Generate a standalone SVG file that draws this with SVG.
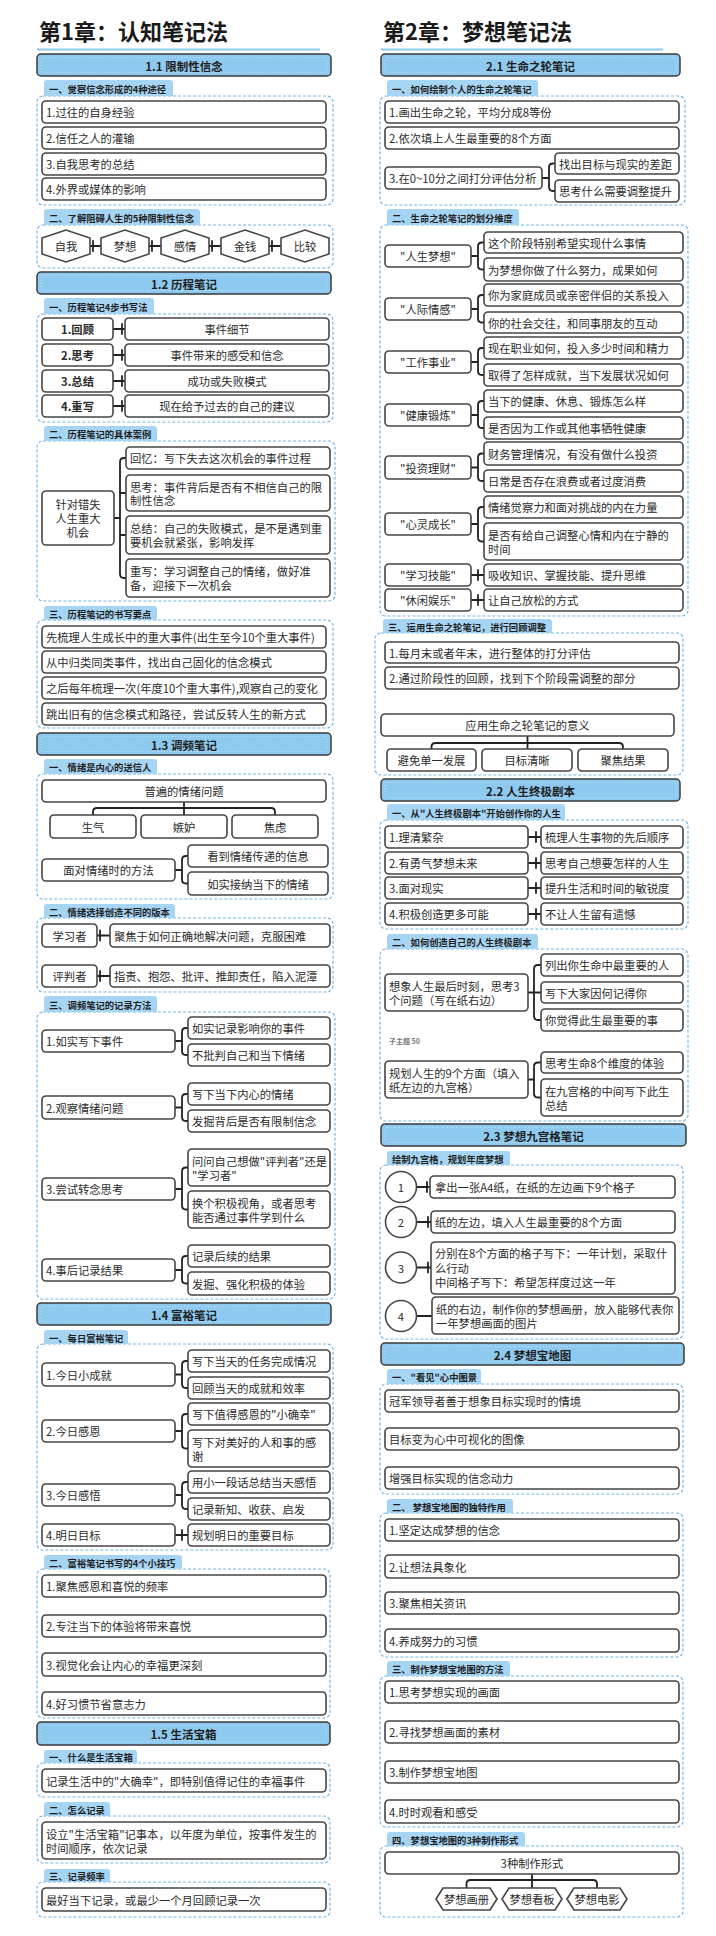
<svg xmlns="http://www.w3.org/2000/svg" width="716" height="1936" viewBox="0 0 716 1936">
<style>
text{font-family:"Noto Sans CJK SC","Noto Sans",sans-serif;dominant-baseline:central}
.ttl{font-size:22px;font-weight:bold;fill:#1a1a1a;dominant-baseline:auto}
.tl{stroke:#8ec8ee;stroke-width:2}
.hd{fill:#8ecaef;stroke:#3a3a3a;stroke-width:1.5}
.hdi{fill:none;stroke:#c9e6f9;stroke-width:.8;stroke-dasharray:1 2}
.ht{font-size:11.5px;font-weight:bold;fill:#1e1e1e;text-anchor:middle}
.tab{fill:#a6d4f3}
.tt{font-size:9.3px;font-weight:bold;fill:#1f1f1f}
.ct{fill:none;stroke:#72b7e6;stroke-width:1.2;stroke-dasharray:3 2}
.bx{fill:#fff;stroke:#454545;stroke-width:1.6}
.t{font-size:11.3px;fill:#2b2b2b}
.m{text-anchor:middle}
.b{font-weight:bold}
.cn{fill:none;stroke:#222;stroke-width:1.8;stroke-linecap:round;stroke-linejoin:round}
.sm{font-size:7px;font-weight:bold;fill:#777}
</style>

<!-- Titles -->
<g id="title1"><text class="ttl" x="39" y="40">第1章：认知笔记法</text><line class="tl" x1="37" y1="49.5" x2="320" y2="49.5"/></g>
<g id="title2"><text class="ttl" x="383" y="40">第2章：梦想笔记法</text><line class="tl" x1="381" y1="49.5" x2="663" y2="49.5"/></g>

<!-- Section headers -->
<g id="h11"><rect class="hd" x="37" y="54" width="294" height="22" rx="4"/><rect class="hdi" x="41" y="57.5" width="286" height="15" rx="2"/><text class="ht" x="184" y="65.5">1.1  限制性信念</text></g>
<g id="h12"><rect class="hd" x="37" y="272" width="294" height="22" rx="4"/><rect class="hdi" x="41" y="275.5" width="286" height="15" rx="2"/><text class="ht" x="184" y="283.5">1.2  历程笔记</text></g>
<g id="h13"><rect class="hd" x="37" y="733" width="294" height="22" rx="4"/><rect class="hdi" x="41" y="736.5" width="286" height="15" rx="2"/><text class="ht" x="184" y="744.5">1.3  调频笔记</text></g>
<g id="h14"><rect class="hd" x="37" y="1303" width="294" height="22" rx="4"/><rect class="hdi" x="41" y="1306.5" width="286" height="15" rx="2"/><text class="ht" x="184" y="1314.5">1.4  富裕笔记</text></g>
<g id="h15"><rect class="hd" x="37" y="1722" width="293" height="23" rx="4"/><rect class="hdi" x="41" y="1725.5" width="285" height="16" rx="2"/><text class="ht" x="183.5" y="1734">1.5  生活宝箱</text></g>
<g id="h21"><rect class="hd" x="381" y="54" width="299" height="22" rx="4"/><rect class="hdi" x="385" y="57.5" width="291" height="15" rx="2"/><text class="ht" x="530.5" y="65.5">2.1  生命之轮笔记</text></g>
<g id="h22"><rect class="hd" x="381" y="779" width="299" height="22" rx="4"/><rect class="hdi" x="385" y="782.5" width="291" height="15" rx="2"/><text class="ht" x="530.5" y="790.5">2.2  人生终极剧本</text></g>
<g id="h23"><rect class="hd" x="381" y="1124" width="305" height="22" rx="4"/><rect class="hdi" x="385" y="1127.5" width="297" height="15" rx="2"/><text class="ht" x="533.5" y="1135.5">2.3  梦想九宫格笔记</text></g>
<g id="h24"><rect class="hd" x="381" y="1343" width="303" height="22" rx="4"/><rect class="hdi" x="385" y="1346.5" width="295" height="15" rx="2"/><text class="ht" x="532.5" y="1354.5">2.4  梦想宝地图</text></g>

<!-- Containers -->
<g id="containers">
<rect class="ct" x="37" y="96" width="296" height="109" rx="6"/>
<rect class="ct" x="37" y="225" width="296" height="43" rx="6"/>
<rect class="ct" x="37" y="314" width="296" height="108" rx="6"/>
<rect class="ct" x="37" y="441" width="298" height="160" rx="6"/>
<rect class="ct" x="37" y="620" width="296" height="108" rx="6"/>
<rect class="ct" x="37" y="774" width="296" height="125" rx="6"/>
<rect class="ct" x="37" y="918" width="296" height="74" rx="6"/>
<rect class="ct" x="37" y="1012" width="298" height="287" rx="6"/>
<rect class="ct" x="37" y="1344" width="296" height="206" rx="6"/>
<rect class="ct" x="37" y="1569" width="293" height="149" rx="6"/>
<rect class="ct" x="37" y="1763" width="293" height="34" rx="6"/>
<rect class="ct" x="37" y="1816" width="293" height="47" rx="6"/>
<rect class="ct" x="37" y="1882" width="293" height="35" rx="6"/>
<rect class="ct" x="380" y="96" width="305" height="109" rx="6"/>
<rect class="ct" x="380" y="225" width="308" height="391" rx="6"/>
<rect class="ct" x="375" y="633" width="308" height="142" rx="6"/>
<rect class="ct" x="380" y="820" width="308" height="109" rx="6"/>
<rect class="ct" x="380" y="949" width="308" height="172" rx="6"/>
<rect class="ct" x="380" y="1165" width="303" height="174" rx="6"/>
<rect class="ct" x="380" y="1384" width="303" height="110" rx="6"/>
<rect class="ct" x="380" y="1513" width="303" height="144" rx="6"/>
<rect class="ct" x="380" y="1676" width="303" height="151" rx="6"/>
<rect class="ct" x="380" y="1846" width="303" height="71" rx="6"/>
</g>

<!-- Tabs -->
<g id="tab-l1"><path class="tab" d="M44 96V83q0-3 3-3h123q3 0 3 3v13z"/><text class="tt" x="49" y="88.5">一、觉察信念形成的4种途径</text></g>
<g id="tab-l2"><path class="tab" d="M44 225V212q0-3 3-3h150q3 0 3 3v13z"/><text class="tt" x="49" y="217.5">二、了解阻碍人生的5种限制性信念</text></g>
<g id="tab-l3"><path class="tab" d="M44 314V301q0-3 3-3h104q3 0 3 3v13z"/><text class="tt" x="49" y="306.5">一、历程笔记4步书写法</text></g>
<g id="tab-l4"><path class="tab" d="M44 441V429q0-3 3-3h107q3 0 3 3v12z"/><text class="tt" x="49" y="434">二、历程笔记的具体案例</text></g>
<g id="tab-l5"><path class="tab" d="M44 620V609q0-3 3-3h107q3 0 3 3v11z"/><text class="tt" x="49" y="613.5">三、历程笔记的书写要点</text></g>
<g id="tab-l6"><path class="tab" d="M44 774V762q0-3 3-3h107q3 0 3 3v12z"/><text class="tt" x="49" y="767">一、情绪是内心的送信人</text></g>
<g id="tab-l7"><path class="tab" d="M44 918V907q0-3 3-3h125q3 0 3 3v11z"/><text class="tt" x="49" y="911.5">二、情绪选择创造不同的版本</text></g>
<g id="tab-l8"><path class="tab" d="M44 1012V999q0-3 3-3h107q3 0 3 3v13z"/><text class="tt" x="49" y="1004.5">三、调频笔记的记录方法</text></g>
<g id="tab-l9"><path class="tab" d="M44 1344V1333q0-3 3-3h78q3 0 3 3v11z"/><text class="tt" x="49" y="1337.5">一、每日富裕笔记</text></g>
<g id="tab-l10"><path class="tab" d="M44 1569V1558q0-3 3-3h132q3 0 3 3v11z"/><text class="tt" x="49" y="1562.5">二、富裕笔记书写的4个小技巧</text></g>
<g id="tab-l11"><path class="tab" d="M44 1763V1753q0-3 3-3h87q3 0 3 3v10z"/><text class="tt" x="49" y="1757">一、什么是生活宝箱</text></g>
<g id="tab-l12"><path class="tab" d="M44 1816V1805q0-3 3-3h60q3 0 3 3v11z"/><text class="tt" x="49" y="1809.5">二、怎么记录</text></g>
<g id="tab-l13"><path class="tab" d="M44 1882V1872q0-3 3-3h60q3 0 3 3v10z"/><text class="tt" x="49" y="1876">三、记录频率</text></g>
<g id="tab-r1"><path class="tab" d="M387 96V83q0-3 3-3h145q3 0 3 3v13z"/><text class="tt" x="392" y="88.5">一、如何绘制个人的生命之轮笔记</text></g>
<g id="tab-r2"><path class="tab" d="M387 225V212q0-3 3-3h126q3 0 3 3v13z"/><text class="tt" x="392" y="217.5">二、生命之轮笔记的划分维度</text></g>
<g id="tab-r3"><path class="tab" d="M383 633V622q0-3 3-3h163q3 0 3 3v11z"/><text class="tt" x="388" y="626.5">三、运用生命之轮笔记，进行回顾调整</text></g>
<g id="tab-r4"><path class="tab" d="M387 820V807q0-3 3-3h172q3 0 3 3v13z"/><text class="tt" x="392" y="812.5">一、从"人生终极剧本"开始创作你的人生</text></g>
<g id="tab-r5"><path class="tab" d="M387 949V937q0-3 3-3h145q3 0 3 3v12z"/><text class="tt" x="392" y="942">二、如何创造自己的人生终极剧本</text></g>
<g id="tab-r6"><path class="tab" d="M387 1165V1154q0-3 3-3h117q3 0 3 3v11z"/><text class="tt" x="392" y="1158.5">绘制九宫格，规划年度梦想</text></g>
<g id="tab-r7"><path class="tab" d="M387 1384V1372q0-3 3-3h88q3 0 3 3v12z"/><text class="tt" x="392" y="1377">一、"看见"心中图景</text></g>
<g id="tab-r8"><path class="tab" d="M387 1513V1502q0-3 3-3h120q3 0 3 3v11z"/><text class="tt" x="392" y="1506.5">二、 梦想宝地图的独特作用</text></g>
<g id="tab-r9"><path class="tab" d="M387 1676V1664q0-3 3-3h117q3 0 3 3v12z"/><text class="tt" x="392" y="1669">三、制作梦想宝地图的方法</text></g>
<g id="tab-r10"><path class="tab" d="M387 1846V1835q0-3 3-3h132q3 0 3 3v11z"/><text class="tt" x="392" y="1839.5">四、梦想宝地图的3种制作形式</text></g>

<!-- Connectors -->
<g id="connectors" class="cn">
<path d="M90 246H101M93 241V251M149 246H161M152 241V251M209 246H221M212 241V251M269 246H281M272 241V251"/>
<path d="M113 329H125M122 324V334M113 355H125M122 350V360M113 381H125M122 376V386M113 406H125M122 401V411"/>
<path d="M114 518H120M126 458H124Q120 458 120 462V574Q120 578 124 578H126M120 493H126M120 535H126"/>
<path d="M184 802V815M93 815V812Q93 808 97 808H271Q275 808 275 812V815"/>
<path d="M175 870H182M188 856H186Q182 856 182 860V879.5Q182 883.5 186 883.5H188"/>
<path d="M97 935.5H110M100 930.5V940.5M97 976H110M100 971V981"/>
<path d="M175 1041H182M188 1028H186Q182 1028 182 1032V1051Q182 1055 186 1055H188"/>
<path d="M175 1107.5H182M188 1094H186Q182 1094 182 1098V1117Q182 1121 186 1121H188"/>
<path d="M175 1189H182M188 1167.5H186Q182 1167.5 182 1171.5V1205.5Q182 1209.5 186 1209.5H188"/>
<path d="M175 1270H182M188 1256H186Q182 1256 182 1260V1279.5Q182 1283.5 186 1283.5H188"/>
<path d="M175 1374.5H182M188 1361H186Q182 1361 182 1365V1384Q182 1388 186 1388H188"/>
<path d="M175 1431H182M188 1414H186Q182 1414 182 1418V1444.5Q182 1448.5 186 1448.5H188"/>
<path d="M175 1495H182M188 1482H186Q182 1482 182 1486V1505Q182 1509 186 1509H188"/>
<path d="M175 1535H188M182 1530V1540"/>
<path d="M542 178H549M555 163.5H553Q549 163.5 549 167.5V187Q549 191 553 191H555"/>
<path d="M471 256H478M484 242.5H482Q478 242.5 478 246.5V265.5Q478 269.5 482 269.5H484"/>
<path d="M471 309H478M484 295H482Q478 295 478 299V318.5Q478 322.5 482 322.5H484"/>
<path d="M471 362H478M484 348H482Q478 348 478 352V371Q478 375 482 375H484"/>
<path d="M471 415H478M484 401H482Q478 401 478 405V424Q478 428 482 428H484"/>
<path d="M471 467.5H478M484 453.5H482Q478 453.5 478 457.5V477Q478 481 482 481H484"/>
<path d="M471 524H478M484 507H482Q478 507 478 511V537.5Q478 541.5 482 541.5H484"/>
<path d="M471 575H484M478 570V580M471 600H484M478 595V605"/>
<path d="M527.5 736V749M431.5 749V747Q431.5 743 435.5 743H619Q623 743 623 747V749"/>
<path d="M528 837H541M536 832V842M528 863H541M536 858V868M528 888H541M536 883V893M528 914H541M536 909V919"/>
<path d="M528 992.5H534M541 965H538Q534 965 534 969V1016Q534 1020 538 1020H541M534 992.5H541"/>
<path d="M528 1079.5H534M541 1062.5H538Q534 1062.5 534 1066.5V1093.5Q534 1097.5 538 1097.5H541"/>
<path d="M416.5 1187H430M427 1182V1192M416.5 1222H431M428 1217V1227M416.5 1267.5H431M428 1262.5V1272.5M416.5 1316H432"/>
<path d="M532 1874V1888M466.5 1888V1884Q466.5 1880 470.5 1880H593Q597 1880 597 1884V1888"/>
</g>

<!-- 1.1 nodes -->
<g id="l11-1"><rect class="bx" x="42" y="101" width="284" height="22" rx="4"/><text class="t" x="46" y="112">1.过往的自身经验</text></g>
<g id="l11-2"><rect class="bx" x="42" y="127" width="284" height="22" rx="4"/><text class="t" x="46" y="138">2.信任之人的灌输</text></g>
<g id="l11-3"><rect class="bx" x="42" y="153" width="284" height="22" rx="4"/><text class="t" x="46" y="164">3.自我思考的总结</text></g>
<g id="l11-4"><rect class="bx" x="42" y="178" width="284" height="22" rx="4"/><text class="t" x="46" y="189">4.外界或媒体的影响</text></g>
<g id="hx1"><polygon class="bx" points="42,238 66,230 90,238 90,254 66,262 42,254"/><text class="t m" x="66" y="246">自我</text></g>
<g id="hx2"><polygon class="bx" points="101,238 125,230 149,238 149,254 125,262 101,254"/><text class="t m" x="125" y="246">梦想</text></g>
<g id="hx3"><polygon class="bx" points="161,238 185,230 209,238 209,254 185,262 161,254"/><text class="t m" x="185" y="246">感情</text></g>
<g id="hx4"><polygon class="bx" points="221,238 245,230 269,238 269,254 245,262 221,254"/><text class="t m" x="245" y="246">金钱</text></g>
<g id="hx5"><polygon class="bx" points="281,238 305,230 329,238 329,254 305,262 281,254"/><text class="t m" x="305" y="246">比较</text></g>

<!-- 1.2 nodes -->
<g id="l12-s1"><rect class="bx" x="42" y="318" width="71" height="22" rx="4"/><text class="t m b" x="77.5" y="329">1.回顾</text></g>
<g id="l12-d1"><rect class="bx" x="125" y="318" width="204" height="22" rx="4"/><text class="t m" x="227" y="329">事件细节</text></g>
<g id="l12-s2"><rect class="bx" x="42" y="344" width="71" height="22" rx="4"/><text class="t m b" x="77.5" y="355">2.思考</text></g>
<g id="l12-d2"><rect class="bx" x="125" y="344" width="204" height="22" rx="4"/><text class="t m" x="227" y="355">事件带来的感受和信念</text></g>
<g id="l12-s3"><rect class="bx" x="42" y="370" width="71" height="22" rx="4"/><text class="t m b" x="77.5" y="381">3.总结</text></g>
<g id="l12-d3"><rect class="bx" x="125" y="370" width="204" height="22" rx="4"/><text class="t m" x="227" y="381">成功或失败模式</text></g>
<g id="l12-s4"><rect class="bx" x="42" y="395" width="71" height="22" rx="4"/><text class="t m b" x="77.5" y="406">4.重写</text></g>
<g id="l12-d4"><rect class="bx" x="125" y="395" width="204" height="22" rx="4"/><text class="t m" x="227" y="406">现在给予过去的自己的建议</text></g>

<g id="case-root"><rect class="bx" x="42" y="491" width="72" height="54" rx="4"/><text class="t m" x="78" y="504">针对错失</text><text class="t m" x="78" y="518">人生重大</text><text class="t m" x="78" y="532">机会</text></g>
<g id="case-1"><rect class="bx" x="126" y="447" width="204" height="22" rx="4"/><text class="t" x="130" y="458">回忆：写下失去这次机会的事件过程</text></g>
<g id="case-2"><rect class="bx" x="126" y="475" width="204" height="36" rx="4"/><text class="t" x="130" y="486.5">思考：事件背后是否有不相信自己的限</text><text class="t" x="130" y="500">制性信念</text></g>
<g id="case-3"><rect class="bx" x="126" y="516" width="204" height="38" rx="4"/><text class="t" x="130" y="528">总结：自己的失败模式，是不是遇到重</text><text class="t" x="130" y="542">要机会就紧张，影响发挥</text></g>
<g id="case-4"><rect class="bx" x="126" y="559" width="204" height="38" rx="4"/><text class="t" x="130" y="571">重写：学习调整自己的情绪，做好准</text><text class="t" x="130" y="585">备，迎接下一次机会</text></g>

<g id="key-1"><rect class="bx" x="42" y="626" width="284" height="22" rx="4"/><text class="t" x="46" y="637">先梳理人生成长中的重大事件(出生至今10个重大事件)</text></g>
<g id="key-2"><rect class="bx" x="42" y="651" width="284" height="22" rx="4"/><text class="t" x="46" y="662">从中归类同类事件，找出自己固化的信念模式</text></g>
<g id="key-3"><rect class="bx" x="42" y="677" width="284" height="22" rx="4"/><text class="t" x="46" y="688">之后每年梳理一次(年度10个重大事件),观察自己的变化</text></g>
<g id="key-4"><rect class="bx" x="42" y="703" width="284" height="22" rx="4"/><text class="t" x="46" y="714">跳出旧有的信念模式和路径，尝试反转人生的新方式</text></g>

<!-- 1.3 nodes -->
<g id="emo"><rect class="bx" x="42" y="780" width="284" height="22" rx="4"/><text class="t m" x="184" y="791">普遍的情绪问题</text></g>
<g id="emo-1"><rect class="bx" x="50" y="815" width="86" height="23" rx="4"/><text class="t m" x="93" y="826.5">生气</text></g>
<g id="emo-2"><rect class="bx" x="141" y="815" width="86" height="23" rx="4"/><text class="t m" x="184" y="826.5">嫉妒</text></g>
<g id="emo-3"><rect class="bx" x="232" y="815" width="86" height="23" rx="4"/><text class="t m" x="275" y="826.5">焦虑</text></g>
<g id="face"><rect class="bx" x="42" y="859" width="133" height="22" rx="4"/><text class="t m" x="108.5" y="870">面对情绪时的方法</text></g>
<g id="face-1"><rect class="bx" x="188" y="845" width="140" height="22" rx="4"/><text class="t m" x="258" y="856">看到情绪传递的信息</text></g>
<g id="face-2"><rect class="bx" x="188" y="872" width="140" height="23" rx="4"/><text class="t m" x="258" y="883.5">如实接纳当下的情绪</text></g>
<g id="learner"><rect class="bx" x="42" y="924" width="55" height="23" rx="4"/><text class="t m" x="69.5" y="935.5">学习者</text></g>
<g id="learner-d"><rect class="bx" x="110" y="924" width="220" height="23" rx="4"/><text class="t" x="114" y="935.5">聚焦于如何正确地解决问题，克服困难</text></g>
<g id="judge"><rect class="bx" x="42" y="965" width="55" height="22" rx="4"/><text class="t m" x="69.5" y="976">评判者</text></g>
<g id="judge-d"><rect class="bx" x="110" y="965" width="220" height="22" rx="4"/><text class="t" x="114" y="976">指责、抱怨、批评、推卸责任，陷入泥潭</text></g>

<g id="rec1"><rect class="bx" x="42" y="1030" width="133" height="22" rx="4"/><text class="t" x="46" y="1041">1.如实写下事件</text></g>
<g id="rec1-a"><rect class="bx" x="188" y="1017" width="142" height="22" rx="4"/><text class="t" x="192" y="1028">如实记录影响你的事件</text></g>
<g id="rec1-b"><rect class="bx" x="188" y="1044" width="142" height="22" rx="4"/><text class="t" x="192" y="1055">不批判自己和当下情绪</text></g>
<g id="rec2"><rect class="bx" x="42" y="1096" width="133" height="23" rx="4"/><text class="t" x="46" y="1107.5">2.观察情绪问题</text></g>
<g id="rec2-a"><rect class="bx" x="188" y="1083" width="142" height="22" rx="4"/><text class="t" x="192" y="1094">写下当下内心的情绪</text></g>
<g id="rec2-b"><rect class="bx" x="188" y="1110" width="142" height="22" rx="4"/><text class="t" x="192" y="1121">发掘背后是否有限制信念</text></g>
<g id="rec3"><rect class="bx" x="42" y="1178" width="133" height="22" rx="4"/><text class="t" x="46" y="1189">3.尝试转念思考</text></g>
<g id="rec3-a"><rect class="bx" x="188" y="1149" width="142" height="37" rx="4"/><text class="t" x="192" y="1161">问问自己想做"评判者"还是</text><text class="t" x="192" y="1175">"学习者"</text></g>
<g id="rec3-b"><rect class="bx" x="188" y="1191" width="142" height="37" rx="4"/><text class="t" x="192" y="1203">换个积极视角，或者思考</text><text class="t" x="192" y="1217">能否通过事件学到什么</text></g>
<g id="rec4"><rect class="bx" x="42" y="1259" width="133" height="22" rx="4"/><text class="t" x="46" y="1270">4.事后记录结果</text></g>
<g id="rec4-a"><rect class="bx" x="188" y="1245" width="142" height="22" rx="4"/><text class="t" x="192" y="1256">记录后续的结果</text></g>
<g id="rec4-b"><rect class="bx" x="188" y="1272" width="142" height="23" rx="4"/><text class="t" x="192" y="1283.5">发掘、强化积极的体验</text></g>

<!-- 1.4 nodes -->
<g id="rich1"><rect class="bx" x="42" y="1363" width="133" height="23" rx="4"/><text class="t" x="46" y="1374.5">1.今日小成就</text></g>
<g id="rich1-a"><rect class="bx" x="188" y="1350" width="142" height="22" rx="4"/><text class="t" x="192" y="1361">写下当天的任务完成情况</text></g>
<g id="rich1-b"><rect class="bx" x="188" y="1377" width="142" height="22" rx="4"/><text class="t" x="192" y="1388">回顾当天的成就和效率</text></g>
<g id="rich2"><rect class="bx" x="42" y="1420" width="133" height="22" rx="4"/><text class="t" x="46" y="1431">2.今日感恩</text></g>
<g id="rich2-a"><rect class="bx" x="188" y="1403" width="142" height="22" rx="4"/><text class="t" x="192" y="1414">写下值得感恩的"小确幸"</text></g>
<g id="rich2-b"><rect class="bx" x="188" y="1430" width="142" height="37" rx="4"/><text class="t" x="192" y="1442">写下对美好的人和事的感</text><text class="t" x="192" y="1456">谢</text></g>
<g id="rich3"><rect class="bx" x="42" y="1484" width="133" height="22" rx="4"/><text class="t" x="46" y="1495">3.今日感悟</text></g>
<g id="rich3-a"><rect class="bx" x="188" y="1471" width="142" height="22" rx="4"/><text class="t" x="192" y="1482">用小一段话总结当天感悟</text></g>
<g id="rich3-b"><rect class="bx" x="188" y="1498" width="142" height="22" rx="4"/><text class="t" x="192" y="1509">记录新知、收获、启发</text></g>
<g id="rich4"><rect class="bx" x="42" y="1524" width="133" height="22" rx="4"/><text class="t" x="46" y="1535">4.明日目标</text></g>
<g id="rich4-a"><rect class="bx" x="188" y="1524" width="142" height="22" rx="4"/><text class="t" x="192" y="1535">规划明日的重要目标</text></g>

<g id="tip1"><rect class="bx" x="42" y="1575" width="284" height="22" rx="4"/><text class="t" x="46" y="1586">1.聚焦感恩和喜悦的频率</text></g>
<g id="tip2"><rect class="bx" x="42" y="1615" width="284" height="22" rx="4"/><text class="t" x="46" y="1626">2.专注当下的体验将带来喜悦</text></g>
<g id="tip3"><rect class="bx" x="42" y="1653" width="284" height="23" rx="4"/><text class="t" x="46" y="1664.5">3.视觉化会让内心的幸福更深刻</text></g>
<g id="tip4"><rect class="bx" x="42" y="1692" width="284" height="23" rx="4"/><text class="t" x="46" y="1703.5">4.好习惯节省意志力</text></g>

<!-- 1.5 nodes -->
<g id="box1"><rect class="bx" x="42" y="1769" width="284" height="23" rx="4"/><text class="t" x="46" y="1780.5">记录生活中的"大确幸"，即特别值得记住的幸福事件</text></g>
<g id="box2"><rect class="bx" x="42" y="1822" width="284" height="37" rx="4"/><text class="t" x="46" y="1834">设立"生活宝箱"记事本，以年度为单位，按事件发生的</text><text class="t" x="46" y="1848">时间顺序，依次记录</text></g>
<g id="box3"><rect class="bx" x="42" y="1888" width="284" height="23" rx="4"/><text class="t" x="46" y="1899.5">最好当下记录，或最少一个月回顾记录一次</text></g>

<!-- 2.1 nodes -->
<g id="w1"><rect class="bx" x="385" y="101" width="294" height="22" rx="4"/><text class="t" x="389" y="112">1.画出生命之轮，平均分成8等份</text></g>
<g id="w2"><rect class="bx" x="385" y="127" width="294" height="22" rx="4"/><text class="t" x="389" y="138">2.依次填上人生最重要的8个方面</text></g>
<g id="w3"><rect class="bx" x="385" y="167" width="157" height="22" rx="4"/><text class="t" x="389" y="178">3.在0~10分之间打分评估分析</text></g>
<g id="w3-a"><rect class="bx" x="555" y="153" width="124" height="21" rx="4"/><text class="t" x="559" y="163.5">找出目标与现实的差距</text></g>
<g id="w3-b"><rect class="bx" x="555" y="180" width="124" height="22" rx="4"/><text class="t" x="559" y="191">思考什么需要调整提升</text></g>

<g id="d1"><rect class="bx" x="385" y="245" width="86" height="22" rx="4"/><text class="t m" x="428" y="256">"人生梦想"</text></g>
<g id="d1-a"><rect class="bx" x="484" y="232" width="199" height="21" rx="4"/><text class="t" x="488" y="242.5">这个阶段特别希望实现什么事情</text></g>
<g id="d1-b"><rect class="bx" x="484" y="258" width="199" height="23" rx="4"/><text class="t" x="488" y="269.5">为梦想你做了什么努力，成果如何</text></g>
<g id="d2"><rect class="bx" x="385" y="298" width="86" height="22" rx="4"/><text class="t m" x="428" y="309">"人际情感"</text></g>
<g id="d2-a"><rect class="bx" x="484" y="284" width="199" height="22" rx="4"/><text class="t" x="488" y="295">你为家庭成员或亲密伴侣的关系投入</text></g>
<g id="d2-b"><rect class="bx" x="484" y="312" width="199" height="21" rx="4"/><text class="t" x="488" y="322.5">你的社会交往，和同事朋友的互动</text></g>
<g id="d3"><rect class="bx" x="385" y="351" width="86" height="22" rx="4"/><text class="t m" x="428" y="362">"工作事业"</text></g>
<g id="d3-a"><rect class="bx" x="484" y="337" width="199" height="22" rx="4"/><text class="t" x="488" y="348">现在职业如何，投入多少时间和精力</text></g>
<g id="d3-b"><rect class="bx" x="484" y="364" width="199" height="22" rx="4"/><text class="t" x="488" y="375">取得了怎样成就，当下发展状况如何</text></g>
<g id="d4"><rect class="bx" x="385" y="404" width="86" height="22" rx="4"/><text class="t m" x="428" y="415">"健康锻炼"</text></g>
<g id="d4-a"><rect class="bx" x="484" y="390" width="199" height="22" rx="4"/><text class="t" x="488" y="401">当下的健康、休息、锻炼怎么样</text></g>
<g id="d4-b"><rect class="bx" x="484" y="417" width="199" height="22" rx="4"/><text class="t" x="488" y="428">是否因为工作或其他事牺牲健康</text></g>
<g id="d5"><rect class="bx" x="385" y="456" width="86" height="23" rx="4"/><text class="t m" x="428" y="467.5">"投资理财"</text></g>
<g id="d5-a"><rect class="bx" x="484" y="442" width="199" height="23" rx="4"/><text class="t" x="488" y="453.5">财务管理情况，有没有做什么投资</text></g>
<g id="d5-b"><rect class="bx" x="484" y="470" width="199" height="22" rx="4"/><text class="t" x="488" y="481">日常是否存在浪费或者过度消费</text></g>
<g id="d6"><rect class="bx" x="385" y="513" width="86" height="22" rx="4"/><text class="t m" x="428" y="524">"心灵成长"</text></g>
<g id="d6-a"><rect class="bx" x="484" y="496" width="199" height="22" rx="4"/><text class="t" x="488" y="507">情绪觉察力和面对挑战的内在力量</text></g>
<g id="d6-b"><rect class="bx" x="484" y="523" width="199" height="37" rx="4"/><text class="t" x="488" y="535">是否有给自己调整心情和内在宁静的</text><text class="t" x="488" y="549">时间</text></g>
<g id="d7"><rect class="bx" x="385" y="564" width="86" height="22" rx="4"/><text class="t m" x="428" y="575">"学习技能"</text></g>
<g id="d7-a"><rect class="bx" x="484" y="564" width="199" height="22" rx="4"/><text class="t" x="488" y="575">吸收知识、掌握技能、提升思维</text></g>
<g id="d8"><rect class="bx" x="385" y="589" width="86" height="22" rx="4"/><text class="t m" x="428" y="600">"休闲娱乐"</text></g>
<g id="d8-a"><rect class="bx" x="484" y="589" width="199" height="22" rx="4"/><text class="t" x="488" y="600">让自己放松的方式</text></g>

<g id="rv1"><rect class="bx" x="385" y="642" width="294" height="21" rx="4"/><text class="t" x="389" y="652.5">1.每月末或者年末，进行整体的打分评估</text></g>
<g id="rv2"><rect class="bx" x="385" y="667" width="294" height="22" rx="4"/><text class="t" x="389" y="678">2.通过阶段性的回顾，找到下个阶段需调整的部分</text></g>
<g id="mean"><rect class="bx" x="381" y="714" width="293" height="22" rx="4"/><text class="t m" x="527.5" y="725">应用生命之轮笔记的意义</text></g>
<g id="mean-1"><rect class="bx" x="387" y="749" width="89" height="22" rx="4"/><text class="t m" x="431.5" y="760">避免单一发展</text></g>
<g id="mean-2"><rect class="bx" x="482" y="749" width="90" height="22" rx="4"/><text class="t m" x="527" y="760">目标清晰</text></g>
<g id="mean-3"><rect class="bx" x="578" y="749" width="90" height="22" rx="4"/><text class="t m" x="623" y="760">聚焦结果</text></g>

<!-- 2.2 nodes -->
<g id="sc1"><rect class="bx" x="385" y="826" width="143" height="22" rx="4"/><text class="t" x="389" y="837">1.理清繁杂</text></g>
<g id="sc1-d"><rect class="bx" x="541" y="826" width="142" height="22" rx="4"/><text class="t" x="545" y="837">梳理人生事物的先后顺序</text></g>
<g id="sc2"><rect class="bx" x="385" y="852" width="143" height="22" rx="4"/><text class="t" x="389" y="863">2.有勇气梦想未来</text></g>
<g id="sc2-d"><rect class="bx" x="541" y="852" width="142" height="22" rx="4"/><text class="t" x="545" y="863">思考自己想要怎样的人生</text></g>
<g id="sc3"><rect class="bx" x="385" y="877" width="143" height="22" rx="4"/><text class="t" x="389" y="888">3.面对现实</text></g>
<g id="sc3-d"><rect class="bx" x="541" y="877" width="142" height="22" rx="4"/><text class="t" x="545" y="888">提升生活和时间的敏锐度</text></g>
<g id="sc4"><rect class="bx" x="385" y="903" width="143" height="22" rx="4"/><text class="t" x="389" y="914">4.积极创造更多可能</text></g>
<g id="sc4-d"><rect class="bx" x="541" y="903" width="142" height="22" rx="4"/><text class="t" x="545" y="914">不让人生留有遗憾</text></g>

<g id="imag"><rect class="bx" x="385" y="974" width="143" height="37" rx="4"/><text class="t" x="389" y="986">想象人生最后时刻，思考3</text><text class="t" x="389" y="1000">个问题（写在纸右边）</text></g>
<g id="imag-1"><rect class="bx" x="541" y="954" width="142" height="22" rx="4"/><text class="t" x="545" y="965">列出你生命中最重要的人</text></g>
<g id="imag-2"><rect class="bx" x="541" y="982" width="142" height="21" rx="4"/><text class="t" x="545" y="992.5">写下大家因何记得你</text></g>
<g id="imag-3"><rect class="bx" x="541" y="1009" width="142" height="22" rx="4"/><text class="t" x="545" y="1020">你觉得此生最重要的事</text></g>
<g id="sub50"><text class="sm" x="389" y="1041">子主题 50</text></g>
<g id="plan"><rect class="bx" x="385" y="1061" width="143" height="37" rx="4"/><text class="t" x="389" y="1073">规划人生的9个方面（填入</text><text class="t" x="389" y="1087">纸左边的九宫格）</text></g>
<g id="plan-1"><rect class="bx" x="541" y="1052" width="142" height="21" rx="4"/><text class="t" x="545" y="1062.5">思考生命8个维度的体验</text></g>
<g id="plan-2"><rect class="bx" x="541" y="1079" width="142" height="37" rx="4"/><text class="t" x="545" y="1091">在九宫格的中间写下此生</text><text class="t" x="545" y="1105">总结</text></g>

<!-- 2.3 nodes -->
<g id="n1"><circle class="bx" cx="401" cy="1187" r="15.5"/><text class="t m" x="401" y="1187">1</text></g>
<g id="n1-d"><rect class="bx" x="430" y="1176" width="245" height="22" rx="4"/><text class="t" x="435" y="1187">拿出一张A4纸，在纸的左边画下9个格子</text></g>
<g id="n2"><circle class="bx" cx="401" cy="1222" r="15.5"/><text class="t m" x="401" y="1222">2</text></g>
<g id="n2-d"><rect class="bx" x="431" y="1211" width="244" height="22" rx="4"/><text class="t" x="435" y="1222">纸的左边，填入人生最重要的8个方面</text></g>
<g id="n3"><circle class="bx" cx="401" cy="1267.5" r="15.5"/><text class="t m" x="401" y="1267.5">3</text></g>
<g id="n3-d"><rect class="bx" x="431" y="1242" width="244" height="52" rx="4"/><text class="t" x="435" y="1253">分别在8个方面的格子写下：一年计划，采取什</text><text class="t" x="435" y="1267.5">么行动</text><text class="t" x="435" y="1282">中间格子写下：希望怎样度过这一年</text></g>
<g id="n4"><circle class="bx" cx="401" cy="1316" r="15.5"/><text class="t m" x="401" y="1316">4</text></g>
<g id="n4-d"><rect class="bx" x="432" y="1297" width="247" height="37" rx="4"/><text class="t" x="436" y="1309">纸的右边，制作你的梦想画册，放入能够代表你</text><text class="t" x="436" y="1323">一年梦想画面的图片</text></g>

<!-- 2.4 nodes -->
<g id="see1"><rect class="bx" x="385" y="1390" width="294" height="22" rx="4"/><text class="t" x="389" y="1401">冠军领导者善于想象目标实现时的情境</text></g>
<g id="see2"><rect class="bx" x="385" y="1428" width="294" height="22" rx="4"/><text class="t" x="389" y="1439">目标变为心中可视化的图像</text></g>
<g id="see3"><rect class="bx" x="385" y="1467" width="294" height="22" rx="4"/><text class="t" x="389" y="1478">增强目标实现的信念动力</text></g>
<g id="use1"><rect class="bx" x="385" y="1519" width="294" height="22" rx="4"/><text class="t" x="389" y="1530">1.坚定达成梦想的信念</text></g>
<g id="use2"><rect class="bx" x="385" y="1555" width="294" height="23" rx="4"/><text class="t" x="389" y="1566.5">2.让想法具象化</text></g>
<g id="use3"><rect class="bx" x="385" y="1592" width="294" height="22" rx="4"/><text class="t" x="389" y="1603">3.聚焦相关资讯</text></g>
<g id="use4"><rect class="bx" x="385" y="1629" width="294" height="23" rx="4"/><text class="t" x="389" y="1640.5">4.养成努力的习惯</text></g>
<g id="mk1"><rect class="bx" x="385" y="1681" width="294" height="22" rx="4"/><text class="t" x="389" y="1692">1.思考梦想实现的画面</text></g>
<g id="mk2"><rect class="bx" x="385" y="1721" width="294" height="22" rx="4"/><text class="t" x="389" y="1732">2.寻找梦想画面的素材</text></g>
<g id="mk3"><rect class="bx" x="385" y="1761" width="294" height="22" rx="4"/><text class="t" x="389" y="1772">3.制作梦想宝地图</text></g>
<g id="mk4"><rect class="bx" x="385" y="1800" width="294" height="23" rx="4"/><text class="t" x="389" y="1811.5">4.时时观看和感受</text></g>
<g id="form"><rect class="bx" x="385" y="1852" width="294" height="22" rx="4"/><text class="t m" x="532" y="1863">3种制作形式</text></g>
<g id="form-1"><polygon class="bx" points="436,1899 443,1888 490,1888 497,1899 490,1910 443,1910"/><text class="t m" x="466.5" y="1899">梦想画册</text></g>
<g id="form-2"><polygon class="bx" points="502,1899 509,1888 555,1888 562,1899 555,1910 509,1910"/><text class="t m" x="532" y="1899">梦想看板</text></g>
<g id="form-3"><polygon class="bx" points="567,1899 574,1888 620,1888 627,1899 620,1910 574,1910"/><text class="t m" x="597" y="1899">梦想电影</text></g>
</svg>
